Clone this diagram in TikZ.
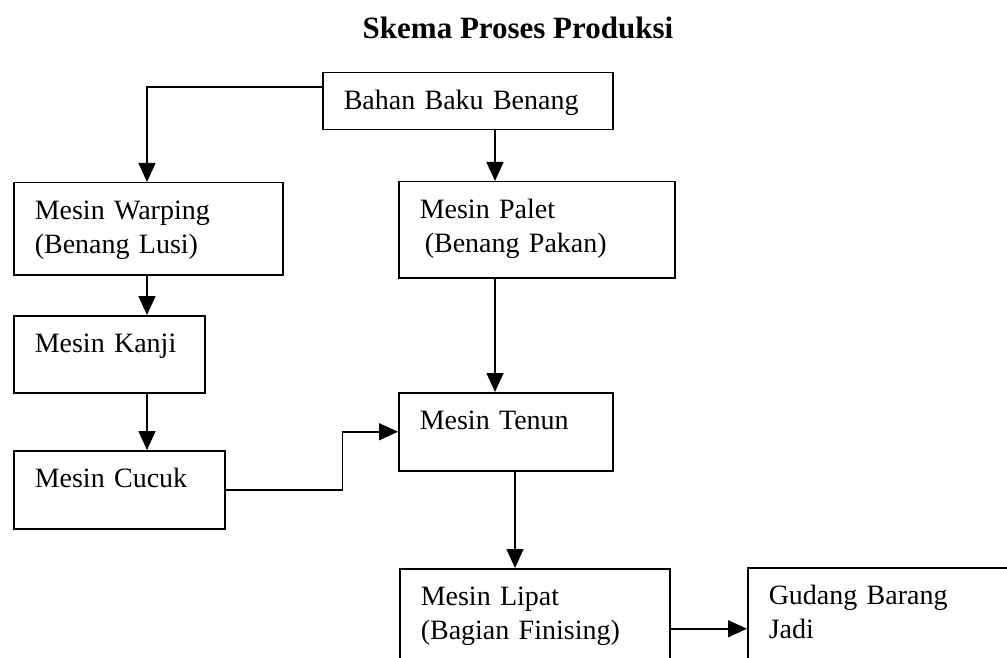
\documentclass[tikz,border=0pt]{standalone}
\usepackage{fontspec}
\setmainfont{Liberation Serif}
\usetikzlibrary{arrows.meta,positioning}

\begin{document}
\begin{tikzpicture}[
    x=1pt, y=-1pt,
    box/.style 2 args={
        draw, line width=1.5pt, anchor=north west, align=left,
        inner xsep=21pt, inner ysep=0pt,
        text width=#1pt-42pt, text height=37pt, text depth=#2pt-37pt,
        font=\fontsize{28}{34}\selectfont
    },
    arr/.style={line width=1.5pt, -{Triangle[width=17pt,length=19pt]}},
    ]
    \useasboundingbox (0,0) rectangle (1007,658);
    \clip (0,0) rectangle (1007,658);

    \node[font=\fontsize{31}{36}\selectfont\bfseries, anchor=base] (judul) at (518,39) {Skema Proses Produksi};

    \node[box={290}{57}] (bahan) at (322,72) {Bahan Baku Benang};
    \node[box={269}{92}] (warping) at (13,182) {Mesin Warping\\(Benang Lusi)};
    \node[box={276}{96}] (palet) at (398,181) {Mesin Palet\\\hspace{5pt}(Benang Pakan)};
    \node[box={191}{77}] (kanji) at (13,315) {Mesin Kanji};
    \node[box={211}{78}] (cucuk) at (13,450) {Mesin Cucuk};
    \node[box={214}{78}] (tenun) at (398,392) {Mesin Tenun};
    \node[box={270}{120}] (lipat) at (399,568) {Mesin Lipat\\(Bagian Finising)};
    \node[box={300}{122}] (gudang) at (747,567) {Gudang Barang\\Jadi};

    % kolom panah
    \coordinate (kiri) at (147,0);
    \coordinate (tengah) at (495,0);
    \coordinate (kanan) at (515,0);

    \draw[arr] ([yshift=14pt]bahan.west) -| (warping.north -| kiri);
    \draw[arr] (bahan.south -| tengah) -- (palet.north -| tengah);
    \draw[arr] (warping.south -| kiri) -- (kanji.north -| kiri);
    \draw[arr] (kanji.south -| kiri) -- (cucuk.north -| kiri);
    \draw[arr] (palet.south -| tengah) -- (tenun.north -| tengah);
    \draw[arr] (cucuk.east) -- ++(117,0) |- (tenun.west);
    \draw[arr] (tenun.south -| kanan) -- (lipat.north -| kanan);
    \draw[arr] (lipat.east) -- (gudang.west);
\end{tikzpicture}
\end{document}
